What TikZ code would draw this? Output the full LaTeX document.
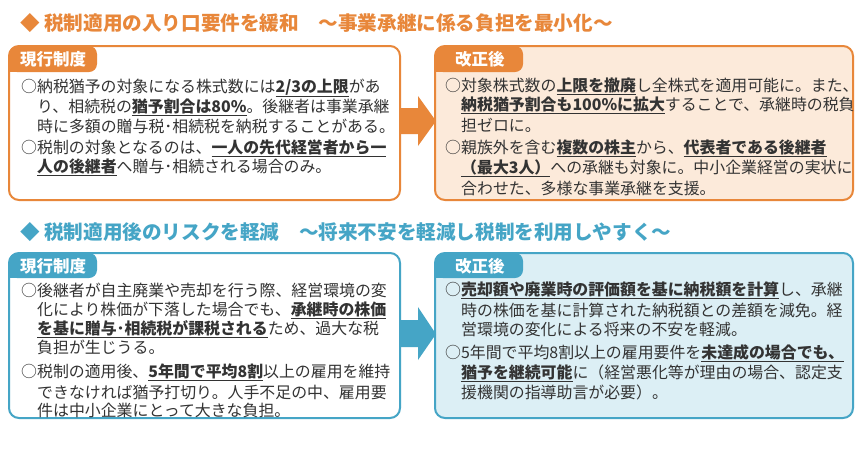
\documentclass[tikz,border=0pt]{standalone}
\usepackage{fontspec}
\setmainfont{Noto Sans CJK JP}
\definecolor{org}{HTML}{E8873A}
\definecolor{orgf}{HTML}{FCEADA}
\definecolor{blu}{HTML}{45A5C6}
\definecolor{bluf}{HTML}{DCEFF5}
\definecolor{txt}{HTML}{333333}
\newcommand{\hl}[1]{\underline{\textbf{#1}}}
\begin{document}
\begin{tikzpicture}[x=1pt,y=-1pt,
  ln/.style={anchor=west,inner sep=0pt,font=\fontsize{15.9}{17}\selectfont,text=txt},
  ttl/.style={anchor=west,inner sep=0pt,font=\fontsize{19.6}{21}\selectfont\bfseries},
  tab/.style={anchor=west,inner sep=0pt,font=\fontsize{16.5}{18}\selectfont\bfseries,text=white}]
\useasboundingbox (0,0) rectangle (860,456);
\fill[white] (0,0) rectangle (860,456);
% titles
\node[ttl,text=org] (t1) at (20,23) {◆ 税制適用の入り口要件を緩和　～事業承継に係る負担を最小化～};
\node[ttl,text=blu] (t2) at (20,232) {◆ 税制適用後のリスクを軽減　～将来不安を軽減し税制を利用しやすく～};
% top boxes
\draw[org,line width=2pt,fill=white,rounded corners=10pt] (9,46) rectangle (400,200);
\fill[org,rounded corners=8pt] (9,46) -- (97,46) -- (97,72) -- (9,72) -- cycle;
\fill[org] (9,60) rectangle (30,72);
\node[tab] (tb1) at (20,59) {現行制度};
\draw[org,line width=2pt,fill=orgf,rounded corners=10pt] (435,46) rectangle (853,200);
\fill[org,rounded corners=8pt] (435,46) -- (523,46) -- (523,72) -- (435,72) -- cycle;
\fill[org] (435,60) rectangle (456,72);
\node[tab] (tb2) at (455,59) {改正後};
\fill[org] (401,108) -- (418,108) -- (418,96) -- (436,121) -- (418,146) -- (418,134) -- (401,134) -- cycle;
% bottom boxes
\draw[blu,line width=2pt,fill=white,rounded corners=10pt] (9,253) rectangle (400,418);
\fill[blu,rounded corners=8pt] (9,253) -- (97,253) -- (97,278) -- (9,278) -- cycle;
\fill[blu] (9,266) rectangle (30,278);
\node[tab] (tb3) at (20,266) {現行制度};
\draw[blu,line width=2pt,fill=bluf,rounded corners=10pt] (435,253) rectangle (853,418);
\fill[blu,rounded corners=8pt] (435,253) -- (523,253) -- (523,278) -- (435,278) -- cycle;
\fill[blu] (435,266) rectangle (456,278);
\node[tab] (tb4) at (455,266) {改正後};
\fill[blu] (401,320) -- (418,320) -- (418,307) -- (436,334) -- (418,360) -- (418,347) -- (401,347) -- cycle;
% top-left text
\node[ln] (a1) at (21,88) {○納税猶予の対象になる株式数には\hl{2/3の上限}があ};
\node[ln] (a2) at (37,107) {り、相続税の\hl{猶予割合は80\%}。後継者は事業承継};
\node[ln] (a3) at (37,126) {時に多額の贈与税･相続税を納税することがある。};
\node[ln] (a4) at (21,148) {○税制の対象となるのは、\hl{一人の先代経営者から一}};
\node[ln] (a5) at (37,167) {\hl{人の後継者}へ贈与･相続される場合のみ。};
% top-right text
\node[ln] (b1) at (445,86) {○対象株式数の\hl{上限を撤廃}し全株式を適用可能に。また、};
\node[ln] (b2) at (461,105) {\hl{納税猶予割合も100\%に拡大}することで、承継時の税負};
\node[ln] (b3) at (461,125) {担ゼロに。};
\node[ln] (b4) at (445,148) {○親族外を含む\hl{複数の株主}から、\hl{代表者である後継者}};
\node[ln] (b5) at (461,168) {\hl{（最大3人）}への承継も対象に。中小企業経営の実状に};
\node[ln] (b6) at (461,188) {合わせた、多様な事業承継を支援。};
% bottom-left text
\node[ln] (c1) at (21,290) {○後継者が自主廃業や売却を行う際、経営環境の変};
\node[ln] (c2) at (37,310) {化により株価が下落した場合でも、\hl{承継時の株価}};
\node[ln] (c3) at (37,329) {\hl{を基に贈与･相続税が課税される}ため、過大な税};
\node[ln] (c4) at (37,347) {負担が生じうる。};
\node[ln] (c5) at (21,372) {○税制の適用後、\hl{5年間で平均8割}以上の雇用を維持};
\node[ln] (c6) at (37,392) {できなければ猶予打切り。人手不足の中、雇用要};
\node[ln] (c7) at (37,410) {件は中小企業にとって大きな負担。};
% bottom-right text
\node[ln] (d1) at (445,290) {○\hl{売却額や廃業時の評価額を基に納税額を計算}し、承継};
\node[ln] (d2) at (461,310) {時の株価を基に計算された納税額との差額を減免。経};
\node[ln] (d3) at (461,329) {営環境の変化による将来の不安を軽減。};
\node[ln] (d4) at (445,353) {○5年間で平均8割以上の雇用要件を\hl{未達成の場合でも、}};
\node[ln] (d5) at (461,373) {\hl{猶予を継続可能}に（経営悪化等が理由の場合、認定支};
\node[ln] (d6) at (461,392) {援機関の指導助言が必要）。};
\end{tikzpicture}
\end{document}
